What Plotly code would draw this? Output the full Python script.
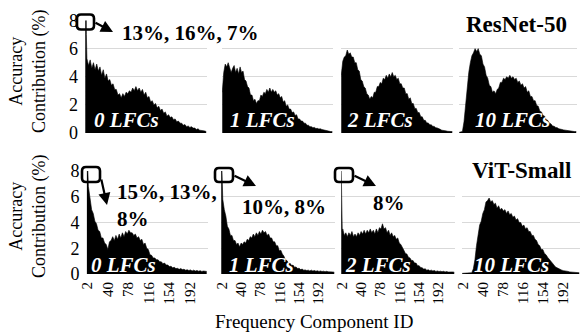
import plotly.graph_objects as go

W, H = 582, 333
FONT = "Liberation Serif"

# Frequency component IDs sampled along the x axis
component_ids = [1, 2, 3] + list(range(4, 224, 3))

tick_ids = [2, 40, 78, 116, 154, 192]
tick_text = ["2", "40", "78", "116", "154", "192"]
y_ticks = [0, 2, 4, 6, 8]

# ResNet-50 accuracy contribution (%) per frequency component
resnet_0lfc = [13, 16, 7, 5.3, 4.8, 5.2, 4.6, 5.0, 4.5, 4.9,
               4.4, 4.7, 4.1, 4.5, 3.9, 4.2, 3.7, 3.8, 3.4, 3.5,
               3.1, 3.1, 2.7, 2.8, 2.5, 2.8, 2.6, 2.9, 2.8, 3.0,
               2.9, 3.2, 3.0, 3.3, 3.0, 3.2, 2.9, 3.1, 2.7, 2.9,
               2.5, 2.6, 2.2, 2.3, 2.0, 2.1, 1.8, 1.9, 1.6, 1.7,
               1.4, 1.5, 1.2, 1.3, 1.1, 1.15, 0.95, 1.0, 0.8, 0.85,
               0.7, 0.7, 0.55, 0.6, 0.45, 0.5, 0.4, 0.45, 0.35, 0.35,
               0.25, 0.3, 0.2, 0.2, 0.15, 0.15, 0.1]
resnet_1lfc = [2.9, 3.4, 3.8, 4.3, 4.9, 4.7, 5.0, 4.6, 4.3, 4.6,
               4.8, 4.3, 4.6, 4.2, 4.7, 4.3, 4.4, 3.8, 3.7, 3.3,
               3.2, 2.7, 2.7, 2.3, 2.4, 2.1, 2.3, 2.3, 2.7, 2.6,
               2.9, 2.8, 3.1, 2.9, 3.2, 2.9, 3.1, 2.9, 3.0, 2.7,
               2.8, 2.5, 2.6, 2.2, 2.3, 1.9, 2.0, 1.7, 1.7, 1.45,
               1.5, 1.25, 1.3, 1.0, 1.0, 0.85, 0.85, 0.7, 0.7, 0.55,
               0.55, 0.45, 0.45, 0.38, 0.4, 0.32, 0.33, 0.28, 0.3, 0.25,
               0.22, 0.2, 0.17, 0.15, 0.12, 0.1, 0.1]
resnet_2lfc = [4.1, 4.7, 5.0, 5.1, 5.4, 5.5, 5.9, 5.6, 5.7, 5.4,
               5.4, 5.0, 5.0, 4.5, 4.4, 3.8, 3.7, 3.3, 3.2, 2.8,
               2.7, 2.4, 2.6, 2.5, 2.9, 2.9, 3.3, 3.3, 3.6, 3.5,
               3.9, 3.8, 4.1, 3.9, 4.2, 4.0, 4.3, 4.0, 4.1, 3.8,
               3.9, 3.5, 3.5, 3.2, 3.2, 2.8, 2.8, 2.4, 2.5, 2.1,
               2.1, 1.75, 1.75, 1.45, 1.45, 1.15, 1.15, 0.9, 0.9, 0.72,
               0.72, 0.58, 0.58, 0.48, 0.47, 0.38, 0.36, 0.28, 0.26, 0.2,
               0.2, 0.15, 0.15, 0.12, 0.1, 0.1, 0.1]
resnet_10lfc = [0.05, 0.05, 0.05, 0.05, 0.1, 0.8, 2.0, 3.3, 4.3, 5.0,
                5.5, 5.7, 6.0, 5.8, 6.0, 5.6, 5.5, 4.9, 4.7, 4.1,
                3.9, 3.4, 3.3, 2.9, 3.0, 2.8, 3.1, 3.2, 3.6, 3.6,
                3.9, 3.8, 4.0, 3.9, 4.1, 3.9, 4.0, 3.8, 3.9, 3.6,
                3.7, 3.4, 3.5, 3.2, 3.3, 2.9, 3.0, 2.6, 2.6, 2.3,
                2.3, 1.95, 1.9, 1.55, 1.5, 1.25, 1.2, 0.95, 0.9, 0.7,
                0.65, 0.5, 0.48, 0.4, 0.38, 0.3, 0.3, 0.25, 0.22, 0.2,
                0.17, 0.15, 0.12, 0.1, 0.1, 0.1, 0.1]

# ViT-Small accuracy contribution (%) per frequency component
vit_0lfc = [15, 13, 8, 6.8, 5.9, 5.0, 4.7, 4.1, 3.9, 3.4,
            3.3, 2.8, 2.8, 2.4, 2.3, 1.9, 2.5, 2.6, 2.9, 2.6,
            3.0, 2.7, 3.1, 2.8, 3.2, 2.9, 3.3, 3.1, 3.4, 3.2,
            3.2, 3.0, 3.1, 2.8, 2.9, 2.6, 2.7, 2.3, 2.4, 2.0,
            1.9, 1.5, 1.45, 1.25, 1.25, 1.1, 1.1, 0.95, 0.95, 0.8,
            0.85, 0.7, 0.7, 0.58, 0.6, 0.48, 0.52, 0.42, 0.44, 0.36,
            0.42, 0.34, 0.37, 0.3, 0.33, 0.27, 0.32, 0.24, 0.3, 0.23,
            0.27, 0.22, 0.26, 0.2, 0.23, 0.19, 0.2]
vit_1lfc = [10, 8, 6.4, 5.8, 5.0, 4.5, 3.7, 3.5, 3.0, 3.0,
            2.6, 2.6, 2.3, 2.4, 2.1, 2.4, 2.3, 2.5, 2.4, 2.7,
            2.6, 2.9, 2.8, 3.1, 2.9, 3.2, 3.0, 3.3, 3.1, 3.4,
            3.2, 3.3, 3.0, 3.1, 2.8, 2.8, 2.5, 2.5, 2.2, 2.2,
            1.8, 1.85, 1.55, 1.4, 1.1, 1.05, 0.85, 0.85, 0.68, 0.7,
            0.52, 0.55, 0.42, 0.45, 0.34, 0.38, 0.3, 0.32, 0.27, 0.3,
            0.24, 0.3, 0.23, 0.27, 0.22, 0.25, 0.2, 0.24, 0.19, 0.22,
            0.18, 0.21, 0.17, 0.18, 0.14, 0.16, 0.14]
vit_2lfc = [8, 3.6, 3.3, 3.5, 3.0, 3.2, 2.9, 3.2, 3.0, 3.3,
            2.9, 3.1, 2.9, 3.2, 3.0, 3.3, 3.1, 3.4, 3.1, 3.4,
            3.2, 3.5, 3.2, 3.4, 3.1, 3.5, 3.2, 3.6, 3.5, 3.9,
            3.5, 3.6, 3.2, 3.4, 3.0, 3.2, 2.9, 3.0, 2.7, 2.8,
            2.4, 2.3, 2.0, 1.85, 1.6, 1.55, 1.3, 1.25, 1.05, 1.05,
            0.85, 0.85, 0.65, 0.65, 0.5, 0.48, 0.38, 0.4, 0.3, 0.33,
            0.26, 0.3, 0.24, 0.27, 0.2, 0.24, 0.19, 0.22, 0.18, 0.21,
            0.16, 0.19, 0.15, 0.17, 0.14, 0.16, 0.14]
vit_10lfc = [0.05, 0.05, 0.05, 0.05, 0.05, 0.05, 0.05, 0.05, 0.1, 0.4,
             1.1, 2.2, 3.2, 3.8, 4.1, 4.7, 5.0, 5.6, 5.7, 5.9,
             5.6, 5.7, 5.4, 5.5, 5.1, 5.3, 5.0, 5.1, 4.9, 5.0,
             4.7, 4.9, 4.6, 4.7, 4.4, 4.5, 4.2, 4.3, 4.0, 4.0,
             3.7, 3.8, 3.5, 3.6, 3.3, 3.3, 3.0, 3.0, 2.7, 2.6,
             2.3, 2.2, 1.9, 1.9, 1.6, 1.5, 1.3, 1.15, 0.95, 0.8,
             0.7, 0.55, 0.48, 0.4, 0.36, 0.3, 0.26, 0.22, 0.2, 0.2,
             0.16, 0.15, 0.14, 0.12, 0.1, 0.1, 0.1]

panel_labels = ["0 LFCs", "1 LFCs", "2 LFCs", "10 LFCs"]
row_series = [
    [resnet_0lfc, resnet_1lfc, resnet_2lfc, resnet_10lfc],
    [vit_0lfc, vit_1lfc, vit_2lfc, vit_10lfc],
]


def px(x):
    return x / W


def py(y):
    return 1 - y / H


# panel placement (pixel extents)
col_extent = [
    [(85, 207), (222, 333), (341, 453), (459, 577)],
    [(86.5, 207.5), (221, 335), (341, 455), (462, 580)],
]
row_extent = [(20.5, 133), (171, 274)]
label_left = [[92, 228, 345, 473], [89, 227, 343, 472]]
label_mid = [120, 265]

fig = go.Figure()
layout = dict(
    width=W, height=H, margin=dict(l=0, r=0, t=0, b=0),
    paper_bgcolor="white", plot_bgcolor="white", showlegend=False,
    font=dict(family=FONT, color="black"),
)
annotations = []
shapes = []


def note(x, y, text, size, xanchor="center", color="black", **kw):
    annotations.append(dict(
        x=px(x), y=py(y), xref="paper", yref="paper", showarrow=False,
        xanchor=xanchor, yanchor="middle", text=text,
        font=dict(family=FONT, size=size, color=color), **kw))


for r in range(2):
    for c in range(4):
        k = r * 4 + c + 1
        sfx = "" if k == 1 else str(k)
        vals = row_series[r][c]
        fig.add_trace(go.Scatter(
            x=component_ids, y=vals, mode="lines", fill="tozeroy",
            line=dict(color="black", width=0.6), fillcolor="black",
            xaxis="x" + sfx, yaxis="y" + sfx, hoverinfo="skip",
        ))
        x0, x1 = col_extent[r][c]
        y0, y1 = row_extent[r]
        layout["xaxis" + sfx] = dict(
            domain=[px(x0), px(x1)], range=[0.5, 224.5], anchor="y" + sfx,
            showgrid=False, zeroline=False, showline=False, ticks="",
            tickmode="array", tickvals=tick_ids, ticktext=tick_text,
            tickangle=-90, showticklabels=(r == 1),
            tickfont=dict(family=FONT, size=15, color="black"),
            ticklabelstandoff=4, automargin=False,
        )
        layout["yaxis" + sfx] = dict(
            domain=[py(y1), py(y0)], range=[0, 8], anchor="x" + sfx,
            showgrid=True, gridcolor="#d9d9d9", gridwidth=1, zeroline=False,
            showline=False, ticks="", tickmode="array", tickvals=y_ticks,
            showticklabels=(c == 0),
            tickfont=dict(family=FONT, size=18, color="black"),
            ticklabelstandoff=6, automargin=False,
        )
        note(label_left[r][c], label_mid[r], "<b><i>" + panel_labels[c] + "</i></b>",
             21, xanchor="left", color="white")

# model names
note(516, 25, "<b>ResNet-50</b>", 23)
note(521, 170, "<b>ViT-Small</b>", 23)

# callouts for clipped low-frequency spikes
note(190, 33, "<b>13%, 16%, 7%</b>", 21)
note(115, 205, "<b>15%, 13%,<br>8%</b>", 21, xanchor="left", align="left")
note(284, 207, "<b>10%, 8%</b>", 21)
note(389, 203, "<b>8%</b>", 21)

arrows = [((94, 22), (113, 32)), ((101, 178), (107, 205)),
          ((233, 175), (256, 186)), ((353, 175), (376, 186))]
for (tx, ty), (hx, hy) in arrows:
    annotations.append(dict(x=px(hx), y=py(hy), xref="paper", yref="paper",
                            ax=tx - hx, ay=ty - hy, text="", showarrow=True,
                            arrowhead=2, arrowsize=1.1, arrowwidth=2.2,
                            arrowcolor="black", standoff=0, startstandoff=0))

boxes = [(77, 14.5, 94, 29.5), (82, 167, 100, 182), (215, 168, 233, 182), (335, 168, 353, 182)]
for bx0, by0, bx1, by1 in boxes:
    rr = 4
    p = (f"M {px(bx0 + rr)} {py(by0)} L {px(bx1 - rr)} {py(by0)} "
         f"Q {px(bx1)} {py(by0)} {px(bx1)} {py(by0 + rr)} L {px(bx1)} {py(by1 - rr)} "
         f"Q {px(bx1)} {py(by1)} {px(bx1 - rr)} {py(by1)} L {px(bx0 + rr)} {py(by1)} "
         f"Q {px(bx0)} {py(by1)} {px(bx0)} {py(by1 - rr)} L {px(bx0)} {py(by0 + rr)} "
         f"Q {px(bx0)} {py(by0)} {px(bx0 + rr)} {py(by0)} Z")
    shapes.append(dict(type="path", path=p, xref="paper", yref="paper",
                       line=dict(color="black", width=2.6), fillcolor="rgba(0,0,0,0)",
                       layer="above"))

# axis titles
for yc in (71, 216):
    note(28, yc, "Accuracy<br>Contribution (%)", 18, textangle=-90)
note(314, 321, "Frequency Component ID", 19)

layout["annotations"] = annotations
layout["shapes"] = shapes
fig.update_layout(**layout)
fig.write_html("out.html")
